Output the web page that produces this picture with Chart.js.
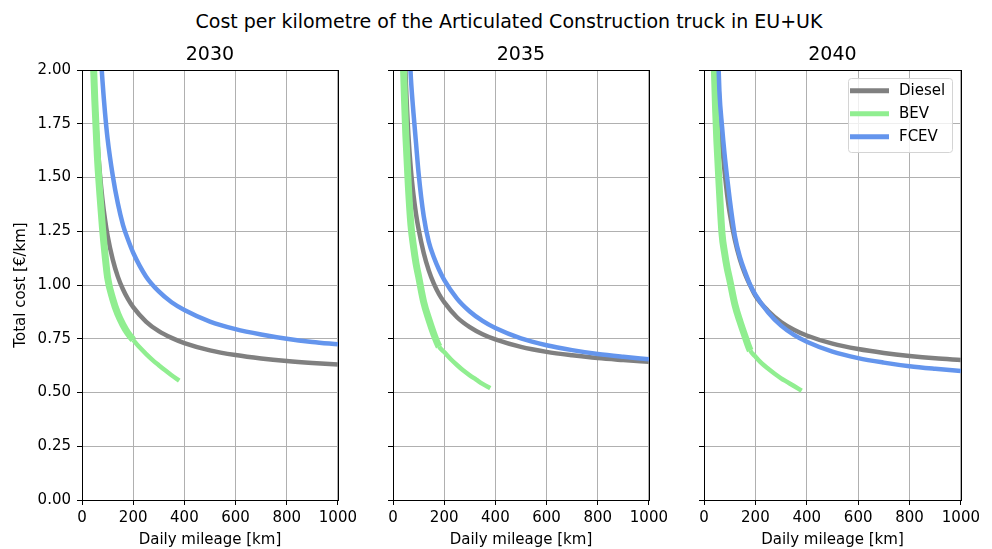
<!DOCTYPE html>
<html>
<head>
<meta charset="utf-8">
<title>Articulated Construction truck cost per km</title>
<script src="https://cdn.jsdelivr.net/npm/chart.js@4.4.0/dist/chart.umd.min.js"></script>
<style>
  html, body { margin: 0; padding: 0; background: #fff; }
  body { width: 992px; height: 549px; position: relative; overflow: hidden; font-family: 'DejaVu Sans', sans-serif; }
  #suptitle { position: absolute; top: 10px; left: 509px; transform: translateX(-50%); font-size: 19px; line-height: 22px; white-space: nowrap; color: #000; }
  .panel { position: absolute; top: 0; height: 549px; }
</style>
</head>
<body>
<div id="suptitle">Cost per kilometre of the Articulated Construction truck in EU+UK</div>
<div class="panel" style="left:0px"><canvas id="c0" width="361" height="549"></canvas></div>
<div class="panel" style="left:383px"><canvas id="c1" width="289" height="549"></canvas></div>
<div class="panel" style="left:694px"><canvas id="c2" width="290" height="549"></canvas></div>
<script>
const years = ['2030', '2035', '2040'];
const seriesNames = ['Diesel', 'BEV', 'FCEV'];
const seriesColors = ['#808080', '#90ee90', '#6495ed'];

// daily mileage sample points (km)
const kmIce = [40, 50, 60, 70, 80, 90, 100, 120, 140, 160, 180, 200, 250, 300, 350, 400, 500, 600, 700, 800, 900, 1000];
const kmBev = [40, 45, 50, 60, 70, 80, 90, 100, 120, 140, 160, 180, 200, 225, 250, 275, 300, 325, 350, 380];

// total cost in €/km
const diesel2030 = [2.23, 1.90, 1.675, 1.516, 1.397, 1.304, 1.23, 1.119, 1.039, 0.98, 0.934, 0.897, 0.83, 0.785, 0.754, 0.73, 0.696, 0.674, 0.658, 0.646, 0.637, 0.63];
const fcev2030 = [null, null, 2.40, 2.14, 1.95, 1.80, 1.68, 1.51, 1.38, 1.28, 1.21, 1.15, 1.04, 0.97, 0.92, 0.884, 0.83, 0.795, 0.77, 0.75, 0.735, 0.724];
const bev2030 = [2.2, 2.02, 1.86, 1.60, 1.42, 1.265, 1.14, 1.035, 0.935, 0.865, 0.815, 0.775, 0.745, 0.71, 0.68, 0.652, 0.627, 0.603, 0.58, 0.555];

const diesel2035 = [2.30, 1.95, 1.70, 1.535, 1.42, 1.33, 1.26, 1.149, 1.067, 1.005, 0.957, 0.92, 0.85, 0.804, 0.771, 0.747, 0.712, 0.689, 0.673, 0.66, 0.651, 0.643];
const fcev2035 = [null, null, 2.2, 1.96, 1.80, 1.66, 1.52, 1.32, 1.20, 1.128, 1.071, 1.024, 0.937, 0.877, 0.833, 0.80, 0.752, 0.72, 0.697, 0.679, 0.666, 0.655];
const bev2035 = [2.05, 1.86, 1.70, 1.46, 1.28, 1.18, 1.10, 1.04, 0.92, 0.84, 0.77, 0.713, 0.688, 0.656, 0.628, 0.602, 0.58, 0.56, 0.54, 0.52];

const diesel2040 = [null, 2.10, 1.84, 1.66, 1.53, 1.42, 1.335, 1.21, 1.118, 1.05, 0.997, 0.95, 0.879, 0.828, 0.792, 0.765, 0.727, 0.702, 0.684, 0.67, 0.659, 0.651];
const fcev2040 = [null, 2.25, 1.90, 1.74, 1.61, 1.50, 1.40, 1.23, 1.13, 1.06, 1.00, 0.955, 0.872, 0.811, 0.768, 0.736, 0.69, 0.66, 0.639, 0.622, 0.61, 0.60];
const bev2040 = [2.02, 1.82, 1.67, 1.44, 1.24, 1.15, 1.08, 1.025, 0.91, 0.83, 0.76, 0.695, 0.667, 0.635, 0.61, 0.587, 0.566, 0.548, 0.53, 0.508];

const xTicks = [0, 200, 400, 600, 800, 1000];
const yTicks = [0, 0.25, 0.5, 0.75, 1, 1.25, 1.5, 1.75, 2];

const dieselByYear = [diesel2030, diesel2035, diesel2040];
const bevByYear = [bev2030, bev2035, bev2040];
const fcevByYear = [fcev2030, fcev2035, fcev2040];

// layout / styling per panel
const yAxisWidth = [82, 10, 10];
const bevHeavyUntil = [200, 180, 180]; // BEV stroke is doubled on the steep low-mileage part
const LINE_W = 4.5;

Chart.defaults.font.family = "'DejaVu Sans'";
Chart.defaults.color = '#000';

function points(km, vals) {
  return km.map((x, i) => ({ x: x, y: vals[i] }));
}

// matplotlib-style frame around the plot area
const frame = {
  id: 'frame',
  afterDraw(chart) {
    const a = chart.chartArea, ctx = chart.ctx;
    const l = Math.round(a.left) + 0.5, t = Math.round(a.top) + 0.5;
    const r = Math.round(a.right) + 0.5, b = Math.round(a.bottom) + 0.5;
    ctx.save();
    ctx.strokeStyle = '#000';
    ctx.lineWidth = 1;
    ctx.strokeRect(l, t, r - l, b - t);
    ctx.restore();
  }
};

// legend box in the upper right corner of the last panel
const boxLegend = {
  id: 'boxLegend',
  afterDraw(chart, args, opts) {
    if (!opts.show) return;
    const a = chart.chartArea, ctx = chart.ctx;
    const w = 104, h = 74;
    const x0 = Math.round(a.right) - 9 - w, y0 = Math.round(a.top) + 8;
    ctx.save();
    ctx.beginPath();
    ctx.roundRect(x0 + 0.5, y0 + 0.5, w, h, 3);
    ctx.fillStyle = 'rgba(255,255,255,0.8)';
    ctx.fill();
    ctx.strokeStyle = '#d4d4d4';
    ctx.lineWidth = 1;
    ctx.stroke();
    ctx.font = "15px 'DejaVu Sans'";
    ctx.textBaseline = 'middle';
    chart.data.datasets.forEach((ds, i) => {
      const y = y0 + 12.7 + i * 23;
      ctx.strokeStyle = ds.borderColor;
      ctx.lineWidth = 5;
      ctx.beginPath();
      ctx.moveTo(x0 + 2, y);
      ctx.lineTo(x0 + 41, y);
      ctx.stroke();
      ctx.fillStyle = '#000';
      ctx.fillText(ds.label, x0 + 51, y + 0.5);
    });
    ctx.restore();
  }
};

function makePanel(p) {
  const ctx = document.getElementById('c' + p).getContext('2d');
  const byYear = [dieselByYear[p], bevByYear[p], fcevByYear[p]];
  const kms = [kmIce, kmBev, kmIce];
  const datasets = seriesNames.map((name, s) => ({
    label: name,
    data: points(kms[s], byYear[s]),
    borderColor: seriesColors[s],
    backgroundColor: seriesColors[s],
    borderWidth: LINE_W,
    pointRadius: 0,
    fill: false,
    cubicInterpolationMode: 'monotone',
    order: 2 - s
  }));
  datasets[1].segment = {
    borderWidth: c => (c.p1.parsed.x <= bevHeavyUntil[p] ? 7 : LINE_W)
  };

  return new Chart(ctx, {
    type: 'line',
    data: { datasets: datasets },
    plugins: [frame, boxLegend],
    options: {
      responsive: false,
      animation: false,
      layout: { padding: { left: 0, right: 20, top: 0, bottom: 0 } },
      plugins: {
        legend: { display: false },
        tooltip: { enabled: false },
        title: {
          display: true,
          text: years[p],
          fullSize: false,
          color: '#000',
          font: { size: 19, weight: 'normal' },
          padding: { top: 43.6, bottom: 3.6 }
        },
        boxLegend: { show: p === 2 }
      },
      scales: {
        x: {
          type: 'linear',
          min: 0,
          max: 1000,
          afterBuildTicks: s => { s.ticks = xTicks.map(v => ({ value: v })); },
          ticks: { font: { size: 15 }, color: '#000', padding: 4, maxRotation: 0, autoSkip: false, callback: v => String(v) },
          grid: { color: '#b0b0b0', lineWidth: 1, tickColor: '#000', tickLength: 5, tickWidth: 1 },
          border: { display: false },
          title: { display: true, text: 'Daily mileage [km]', color: '#000', font: { size: 15 }, padding: { top: 0, bottom: 0 } }
        },
        y: {
          type: 'linear',
          min: 0,
          max: 2,
          afterBuildTicks: s => { s.ticks = yTicks.map(v => ({ value: v })); },
          afterFit: s => { s.width = yAxisWidth[p]; },
          ticks: { display: p === 0, font: { size: 15 }, color: '#000', padding: 6, autoSkip: false, callback: v => v.toFixed(2) },
          grid: { color: '#b0b0b0', lineWidth: 1, tickColor: '#000', tickLength: 5, tickWidth: 1 },
          border: { display: false },
          title: { display: p === 0, text: 'Total cost [€/km]', color: '#000', font: { size: 15 }, padding: { top: 12, bottom: 0 } }
        }
      }
    }
  });
}

years.forEach((y, p) => makePanel(p));
</script>
</body>
</html>
